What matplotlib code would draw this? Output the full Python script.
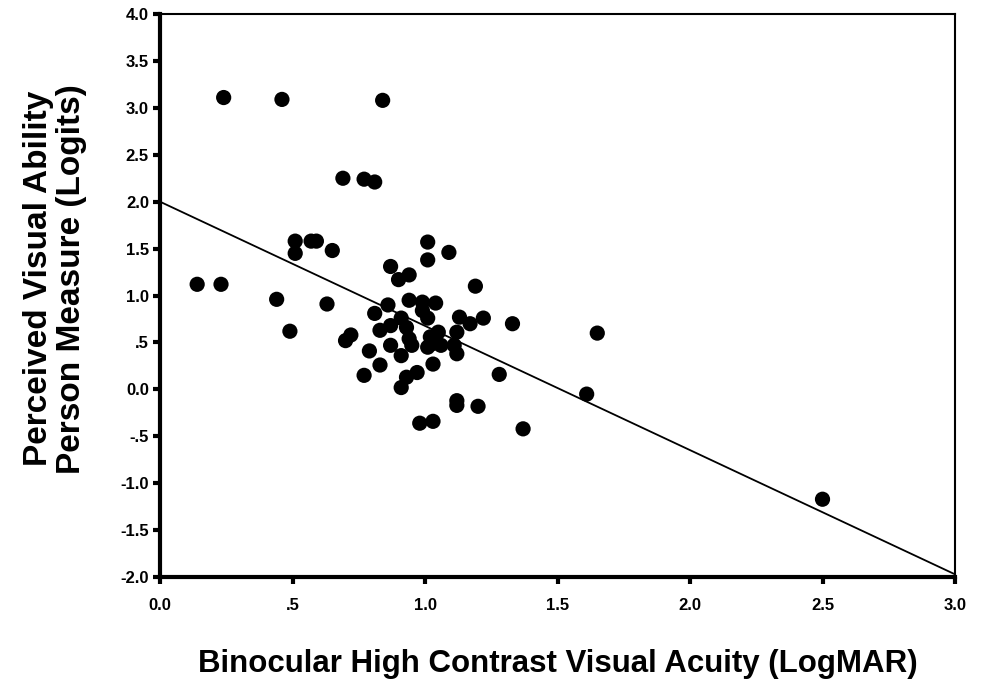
import matplotlib.pyplot as plt
import numpy as np

# binocular high contrast VA (logMAR) vs perceived visual ability (logits)
acuity = [
    0.14, 0.23, 0.24, 0.46, 0.84, 0.44, 0.49, 0.51, 0.57, 0.59, 0.51, 0.65,
    0.63, 0.69, 0.77, 0.81, 0.87, 0.90, 0.94, 1.01, 1.01, 1.09, 1.19,
    0.86, 0.81, 0.94, 0.99, 1.04, 0.99, 1.01, 0.91, 0.87, 0.83, 0.93,
    1.13, 1.17, 1.22, 1.33, 1.12, 1.05, 1.02, 1.03, 1.01, 1.06, 0.94, 0.95,
    0.87, 1.11, 1.12, 0.70, 0.72, 0.79, 0.91, 0.83, 0.77, 1.03, 0.97, 0.93,
    0.91, 1.28, 1.12, 1.12, 1.20, 0.98, 1.03, 1.37, 1.65, 1.61, 2.50,
]
ability = [
    1.12, 1.12, 3.11, 3.09, 3.08, 0.96, 0.62, 1.58, 1.58, 1.58, 1.45, 1.48,
    0.91, 2.25, 2.24, 2.21, 1.31, 1.17, 1.22, 1.57, 1.38, 1.46, 1.10,
    0.90, 0.81, 0.95, 0.93, 0.92, 0.84, 0.76, 0.76, 0.68, 0.63, 0.66,
    0.77, 0.70, 0.76, 0.70, 0.61, 0.61, 0.56, 0.49, 0.45, 0.47, 0.54, 0.47,
    0.47, 0.47, 0.38, 0.52, 0.58, 0.41, 0.36, 0.26, 0.15, 0.27, 0.18, 0.13,
    0.02, 0.16, -0.12, -0.17, -0.18, -0.36, -0.34, -0.42, 0.60, -0.05, -1.17,
]
fit_x = [0.0, 3.0]
fit_y = [2.0, -1.97]

x_ticks = [0.0, 0.5, 1.0, 1.5, 2.0, 2.5, 3.0]
x_labels = ["0.0", ".5", "1.0", "1.5", "2.0", "2.5", "3.0"]
y_ticks = [4.0, 3.5, 3.0, 2.5, 2.0, 1.5, 1.0, 0.5, 0.0, -0.5, -1.0, -1.5, -2.0]
y_labels = ["4.0", "3.5", "3.0", "2.5", "2.0", "1.5", "1.0", ".5", "0.0",
            "-.5", "-1.0", "-1.5", "-2.0"]

plt.rcParams["font.family"] = ["Liberation Sans", "DejaVu Sans"]

fig = plt.figure(figsize=(9.82, 6.83), dpi=100)
ax = fig.add_axes([0.163, 0.155, 0.8095, 0.8245])

ax.scatter(acuity, ability, s=120, color="black", edgecolor="none", zorder=3)
ax.plot(fit_x, fit_y, color="black", lw=1.3, zorder=2)

ax.set_xlim(0, 3.0)
ax.set_ylim(-2.0, 4.0)
ax.set_xticks(x_ticks)
ax.set_xticklabels(x_labels, fontsize=12, fontweight="bold")
ax.set_yticks(y_ticks)
ax.set_yticklabels(y_labels, fontsize=12, fontweight="bold")
ax.tick_params(axis="x", direction="out", length=5, width=3, pad=10)
ax.tick_params(axis="y", direction="out", length=5, width=3, pad=3)

for side in ["left", "bottom"]:
    ax.spines[side].set_linewidth(3)
for side in ["top", "right"]:
    ax.spines[side].set_linewidth(1.5)

ax.set_xlabel("Binocular High Contrast Visual Acuity (LogMAR)",
              fontsize=22.5, fontweight="bold", labelpad=26)
ax.set_ylabel("Perceived Visual Ability\nPerson Measure (Logits)",
              fontsize=24, fontweight="bold", labelpad=24, linespacing=1.1)
ax.yaxis.label.set_y(0.53)

fig.savefig("out.png", dpi=100)
